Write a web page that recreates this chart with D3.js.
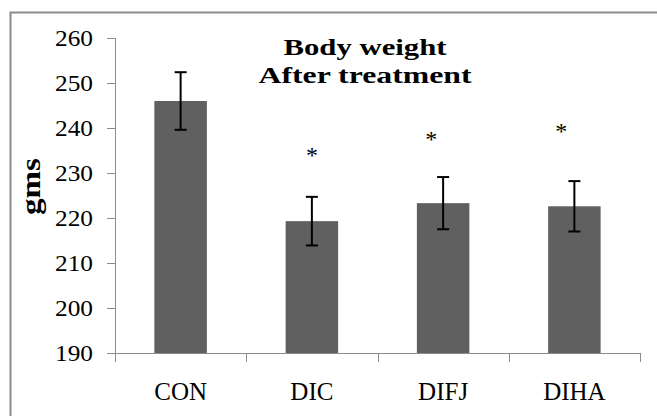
<!DOCTYPE html>
<html>
<head>
<meta charset="utf-8">
<script src="https://cdn.jsdelivr.net/npm/d3@7"></script>
<style>
  html, body { margin: 0; padding: 0; background: #fff; }
  svg { display: block; }
  text { font-family: "Liberation Serif", "Times New Roman", serif; fill: #000; }
</style>
</head>
<body>
<svg id="chart" width="657" height="416"></svg>
<script>
// ---- data ----
const categories = ["CON", "DIC", "DIFJ", "DIHA"];
const bodyWeight = [246.0, 219.3, 223.3, 222.6];
const errorSD = [6.4, 5.4, 5.8, 5.6];
const significant = [false, true, true, true];
const starLevel = [null, 235.6, 239.0, 240.9];     // asterisk height, in gms
const starShift = [0, 0, -0.09, -0.10];             // asterisk offset, fraction of band step
const yTicks = [190, 200, 210, 220, 230, 240, 250, 260];
const titleLines = ["Body weight", "After treatment"];
const yLabel = "gms";

// ---- layout ----
const svg = d3.select("#chart");
const W = 657, H = 416;
const plot = { left: 115, right: 640, top: 38, bottom: 353 };
const gray = "#8c8c8c";

// outer frame (top and left edges visible)
svg.append("rect")
  .attr("x", 10.5).attr("y", 12.5)
  .attr("width", W + 20).attr("height", H + 20)
  .attr("fill", "none").attr("stroke", gray).attr("stroke-width", 2);

const x = d3.scaleBand().domain(categories)
  .range([plot.left, plot.right]).paddingInner(0.6).paddingOuter(0.3);
const step = x.step();
const y = d3.scaleLinear().domain([190, 260]).range([plot.bottom, plot.top]);

// y axis
const yAxis = svg.append("g")
  .attr("transform", `translate(${plot.left},0)`)
  .call(d3.axisLeft(y).tickValues(yTicks).tickSize(8).tickPadding(14).tickFormat(d3.format("d")));
yAxis.select(".domain").attr("stroke", gray);
yAxis.selectAll(".tick line").attr("stroke", gray);
yAxis.selectAll(".tick text")
  .attr("font-family", "Liberation Serif").attr("font-size", 23)
  .attr("dy", "0.34em").attr("fill", "#000")
  .attr("textLength", 38).attr("lengthAdjust", "spacingAndGlyphs");

// x axis: ticks at band boundaries
svg.append("line")
  .attr("x1", plot.left).attr("x2", plot.right)
  .attr("y1", plot.bottom + 0.5).attr("y2", plot.bottom + 0.5)
  .attr("stroke", gray);
const boundaries = categories.map(c => x(c) - x.paddingInner() * step / 2).concat([plot.right]);
svg.selectAll(".xtick").data(boundaries).join("line")
  .attr("class", "xtick")
  .attr("x1", d => Math.round(d) + 0.5).attr("x2", d => Math.round(d) + 0.5)
  .attr("y1", plot.bottom).attr("y2", plot.bottom + 9)
  .attr("stroke", gray);

svg.selectAll(".xlab").data(categories).join("text")
  .attr("class", "xlab")
  .attr("x", d => x(d) + x.bandwidth() / 2)
  .attr("y", 400)
  .attr("text-anchor", "middle")
  .attr("font-size", 25)
  .text(d => d);

// bars
const rows = categories.map((c, i) => ({ c, v: bodyWeight[i], e: errorSD[i], s: significant[i], sy: starLevel[i], sx: starShift[i] }));
svg.selectAll(".bar").data(rows).join("rect")
  .attr("class", "bar")
  .attr("x", d => x(d.c)).attr("width", x.bandwidth())
  .attr("y", d => y(d.v)).attr("height", d => y(190) - y(d.v))
  .attr("fill", "#606060");

// error bars
const eb = svg.selectAll(".err").data(rows).join("g").attr("class", "err")
  .attr("transform", d => `translate(${x(d.c) + x.bandwidth() / 2},0)`);
eb.append("line")
  .attr("x1", 0).attr("x2", 0)
  .attr("y1", d => y(d.v + d.e)).attr("y2", d => y(d.v - d.e))
  .attr("stroke", "#000").attr("stroke-width", 2);
eb.append("line")
  .attr("x1", -6).attr("x2", 6)
  .attr("y1", d => y(d.v + d.e)).attr("y2", d => y(d.v + d.e))
  .attr("stroke", "#000").attr("stroke-width", 2);
eb.append("line")
  .attr("x1", -6).attr("x2", 6)
  .attr("y1", d => y(d.v - d.e)).attr("y2", d => y(d.v - d.e))
  .attr("stroke", "#000").attr("stroke-width", 2);

// significance asterisks
svg.selectAll(".star").data(rows.filter(d => d.s)).join("text")
  .attr("class", "star")
  .attr("x", d => x(d.c) + x.bandwidth() / 2 + d.sx * step)
  .attr("y", d => y(d.sy))
  .attr("dy", "0.62em")
  .attr("text-anchor", "middle")
  .attr("font-size", 24)
  .text("*");

// title
svg.selectAll(".title").data(titleLines).join("text")
  .attr("class", "title")
  .attr("x", 365)
  .attr("y", (d, i) => 55 + i * 28)
  .attr("text-anchor", "middle")
  .attr("font-weight", "bold")
  .attr("font-size", 24)
  .attr("textLength", (d, i) => i === 0 ? 163 : 213)
  .attr("lengthAdjust", "spacingAndGlyphs")
  .text(d => d);

// y label
svg.append("text")
  .attr("transform", "translate(40,186.5) rotate(-90)")
  .attr("text-anchor", "middle")
  .attr("font-weight", "bold")
  .attr("font-size", 27)
  .attr("textLength", 57)
  .attr("lengthAdjust", "spacingAndGlyphs")
  .text(yLabel);
</script>
</body>
</html>
